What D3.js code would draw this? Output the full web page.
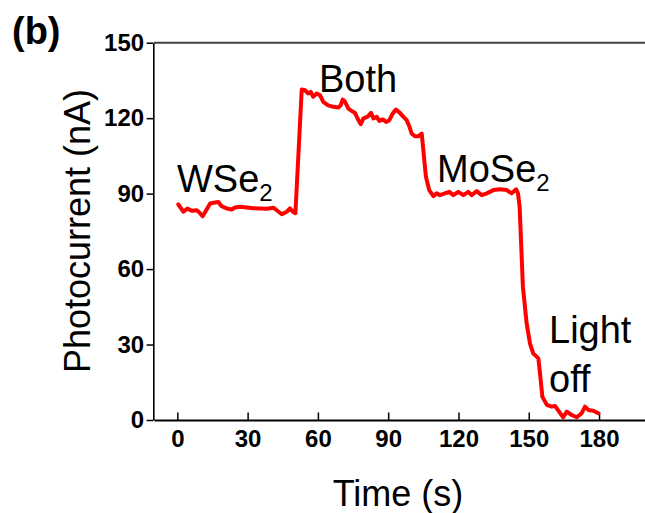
<!DOCTYPE html>
<html>
<head>
<meta charset="utf-8">
<script src="https://cdn.jsdelivr.net/npm/d3@7"></script>
<style>
  body { margin: 0; background: #fff; }
  svg { display: block; font-family: "Liberation Sans", Arial, sans-serif; }
</style>
</head>
<body>
<div id="chart"></div>
<script>
// photocurrent trace
var timeS = [0.4, 2.6, 4.3, 6.1, 8.3, 9.4, 10.8, 12.2, 14.0, 16.1, 17.5, 18.9, 21.1, 23.2, 24.6, 26.8,
  29.6, 32.4, 35.3, 38.2, 41.0, 42.4, 44.6, 46.7, 48.1, 49.3, 50.4,
  53.1, 54.5, 55.9, 56.9, 58.0, 59.5, 60.9, 62.3, 64.4, 66.6, 68.7, 69.7, 70.6, 71.6, 73.0, 74.4,
  75.8, 77.3, 78.3, 79.4, 81.1, 82.7, 83.7, 85.1, 86.2, 87.7, 89.1, 90.5, 91.9, 93.3, 95.0, 96.5,
  97.9, 99.0, 100.0, 101.4, 102.9, 104.3, 105.0, 106.1, 107.5,
  109.3, 110.7, 112.1, 114.2, 116.1, 117.8, 119.9, 122.1, 124.2, 125.6, 127.8, 129.9, 132.1,
  134.9, 137.7, 140.6, 142.7, 144.6, 145.4,
  146.1, 146.8, 147.5, 149.1, 150.5, 151.9, 154.1, 154.8, 155.8, 157.7, 159.8, 161.2, 163.4,
  164.7, 166.2, 168.3, 170.5, 172.6, 174.0, 175.4, 177.5, 179.7];
var photocurrentNA = [85.7, 82.8, 84.1, 83.2, 83.4, 82.5, 81.0, 83.2, 86.1, 86.5, 86.7, 85.0, 84.1, 83.7, 84.5, 84.8,
  84.5, 84.2, 84.1, 84.0, 84.4, 83.4, 81.8, 82.8, 84.1, 82.8, 82.2,
  131.4, 131.1, 129.8, 130.5, 128.5, 129.8, 129.1, 126.5, 125.1, 124.5, 124.2, 125.1, 127.4, 126.5, 123.8, 122.9,
  122.1, 119.2, 117.6, 119.9, 120.5, 122.1, 119.9, 120.5, 118.9, 119.5, 118.5, 119.2, 121.8, 123.4, 122.1, 120.5,
  119.2, 116.8, 113.9, 112.8, 112.8, 113.9, 107.3, 96.7, 91.4,
  89.0, 90.1, 89.4, 90.1, 90.7, 89.4, 90.7, 89.4, 90.7, 89.4, 91.0, 89.4, 90.1,
  91.4, 91.7, 91.4, 90.1, 91.7, 90.1,
  84.8, 68.9, 53.0, 38.4, 30.5, 26.5, 24.5, 18.6, 9.3, 6.0, 5.3, 5.6, 2.7,
  1.1, 3.3, 2.0, 1.1, 2.7, 5.3, 4.0, 3.7, 2.7];

var xMajor = [0, 30, 60, 90, 120, 150, 180];
var xMinor = [15, 45, 75, 105, 135, 165, 195];
var yMajor = [0, 30, 60, 90, 120, 150];
var yMinor = [15, 45, 75, 105, 135];

var W = 645, H = 513;
var svg = d3.select("#chart").append("svg")
  .attr("width", W)
  .attr("height", H);

var x = d3.scaleLinear().domain([-10, 200]).range([153.9, 645.9]);
var y = d3.scaleLinear().domain([0, 150]).range([420, 42.7]);

// top frame line (grey)
svg.append("line")
  .attr("x1", x(-10)).attr("x2", x(200))
  .attr("y1", y(150)).attr("y2", y(150))
  .attr("stroke", "#404040")
  .attr("stroke-width", 2);

// bottom axis, ticks inside
var gx = svg.append("g").attr("transform", "translate(0," + y(0) + ")");
gx.call(d3.axisBottom(x).tickValues(xMinor).tickSize(-3.5).tickFormat(""));
gx.call(d3.axisBottom(x).tickValues(xMajor).tickSizeInner(-7.5).tickSizeOuter(0).tickPadding(9.5));
gx.selectAll(".domain").attr("stroke", "#000").attr("stroke-width", 2);
gx.selectAll(".tick line").attr("stroke", "#000").attr("stroke-width", 1.5);
gx.selectAll("text")
  .attr("fill", "#000")
  .style("font-size", "24px")
  .style("font-weight", "bold")
  .style("font-family", "'Liberation Sans', Arial, sans-serif");

// left axis: major ticks out, minor ticks in
var gy = svg.append("g").attr("transform", "translate(153.3,0)");
gy.call(d3.axisLeft(y).tickValues(yMinor).tickSize(-3).tickFormat(""));
gy.call(d3.axisLeft(y).tickValues(yMajor).tickSizeInner(6.7).tickSizeOuter(0).tickPadding(2.5));
gy.selectAll(".domain").attr("stroke", "#000").attr("stroke-width", 1.6);
gy.selectAll(".tick line").attr("stroke", "#000").attr("stroke-width", 1.5);
gy.selectAll("text")
  .attr("fill", "#000")
  .style("font-size", "24px")
  .style("font-weight", "bold")
  .style("font-family", "'Liberation Sans', Arial, sans-serif");

// the trace
var pts = timeS.map(function(t, i) { return [t, photocurrentNA[i]]; });
svg.append("path")
  .datum(pts)
  .attr("fill", "none")
  .attr("stroke", "#ff0000")
  .attr("stroke-width", 4)
  .attr("stroke-linejoin", "round")
  .attr("stroke-linecap", "round")
  .attr("d", d3.line().x(d => x(d[0])).y(d => y(d[1])));

// axis titles
svg.append("text")
  .attr("x", 398).attr("y", 505.5)
  .attr("text-anchor", "middle")
  .style("font-size", "36px")
  .text("Time (s)");

svg.append("text")
  .attr("transform", "translate(90,231) rotate(-90)")
  .attr("text-anchor", "middle")
  .style("font-size", "36px")
  .text("Photocurrent (nA)");

// panel letter
svg.append("text")
  .attr("x", 12).attr("y", 44)
  .style("font-size", "38px")
  .style("font-weight", "bold")
  .text("(b)");

// annotations
function label(tx, ty, main, sub) {
  var t = svg.append("text").attr("x", tx).attr("y", ty).style("font-size", "38px");
  t.append("tspan").text(main);
  if (sub) {
    t.append("tspan").attr("dy", 9.5).style("font-size", "24px").text(sub);
  }
}
label(177, 191.7, "WSe", "2");
label(319, 91.5, "Both");
label(437, 181.7, "MoSe", "2");
label(549, 343.3, "Light");
label(549, 391.7, "off");
</script>
</body>
</html>
